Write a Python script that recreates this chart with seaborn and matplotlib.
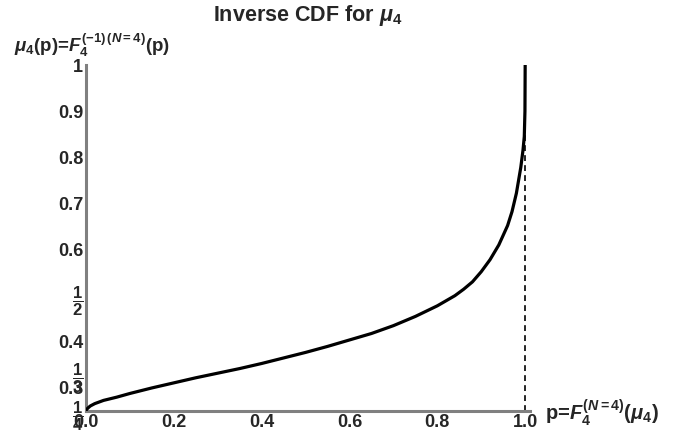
import numpy as np
import pandas as pd
import seaborn as sns
import matplotlib
matplotlib.use("Agg")
import matplotlib.pyplot as plt
from matplotlib.ticker import MultipleLocator

# values
p_vals = [0.0, 0.001, 0.005, 0.01, 0.02, 0.04, 0.07, 0.10, 0.15, 0.20, 0.25,
          0.30, 0.35, 0.40, 0.45, 0.50, 0.55, 0.60, 0.65, 0.70, 0.75, 0.80,
          0.84, 0.86, 0.88, 0.90, 0.92, 0.94, 0.96, 0.97, 0.98, 0.99, 0.995,
          0.998, 0.9995, 1.0]
mu_vals = [0.250, 0.253, 0.257, 0.261, 0.266, 0.273, 0.280, 0.288, 0.300,
           0.311, 0.322, 0.332, 0.342, 0.353, 0.365, 0.377, 0.390, 0.404,
           0.418, 0.435, 0.455, 0.478, 0.500, 0.514, 0.530, 0.552, 0.578,
           0.610, 0.652, 0.682, 0.722, 0.778, 0.815, 0.845, 0.900, 1.0]

x_ticks = [0.0, 0.2, 0.4, 0.6, 0.8, 1.0]
x_ticklabels = ["0.0", "0.2", "0.4", "0.6", "0.8", "1.0"]
y_ticks = [1.0, 0.9, 0.8, 0.7, 0.6, 0.5, 0.4, 1/3, 0.3, 0.25]
y_ticklabels = ["1", "0.9", "0.8", "0.7", "0.6", r"$\dfrac{1}{2}$", "0.4",
                r"$\dfrac{1}{3}$", "0.3", r"$\dfrac{1}{4}$"]

df = pd.DataFrame({"p": p_vals, "mu": mu_vals})

sns.set_style("white")
plt.rcParams['font.family'] = ['Liberation Sans', 'DejaVu Sans']
plt.rcParams['font.weight'] = 'bold'
plt.rcParams['mathtext.fontset'] = 'custom'
plt.rcParams['mathtext.rm'] = 'Liberation Sans:bold'
plt.rcParams['mathtext.it'] = 'Liberation Sans:bold:italic'
plt.rcParams['mathtext.bf'] = 'Liberation Sans:bold'

fig = plt.figure(figsize=(6.84, 4.34), dpi=100)
ax = fig.add_axes([86/684, 1-411/434, 444/684, 346/434])

ax.axvline(1.0, color='black', lw=1.2, ls=(0, (3.5, 2.5)), zorder=1)
sns.lineplot(data=df, x="p", y="mu", ax=ax, color='black', lw=2.3,
             estimator=None, zorder=3)

ax.set_xlim(0, 1.011)
ax.set_ylim(0.25, 1.0)
ax.set_xticks(x_ticks)
ax.set_xticklabels(x_ticklabels)
ax.set_yticks(y_ticks)
ax.set_yticklabels(y_ticklabels)
ax.xaxis.set_minor_locator(MultipleLocator(0.05))

for s in ['top', 'right']:
    ax.spines[s].set_visible(False)
for s in ['left', 'bottom']:
    ax.spines[s].set_color('#808080')
    ax.spines[s].set_linewidth(2.2)

ax.tick_params(axis='both', which='major', direction='in', length=3.5,
               width=1.2, color='black', labelsize=13, pad=2)
ax.tick_params(axis='x', which='minor', direction='in', length=2,
               width=1.0, color='black')
for lab in ax.get_xticklabels() + ax.get_yticklabels():
    lab.set_fontweight('bold')
for lab in ax.get_yticklabels():
    if "frac" in lab.get_text():
        lab.set_fontsize(12)

ax.set_xlabel("")
ax.set_ylabel("")

fig.text(308/684, 1-15/434, r"Inverse CDF for $\mu_4$", fontsize=15.5,
         fontweight='bold', ha='center', va='center')
fig.text(14/684, 1-45/434, r"$\mu_4$(p)=$F_4^{(-1)\,(N=4)}$(p)",
         fontsize=13.5, fontweight='bold', ha='left', va='center')
fig.text(545/684, 1-413/434, r"p=$F_4^{(N=4)}$($\mu_4$)",
         fontsize=14.5, fontweight='bold', ha='left', va='center')

fig.savefig("out.png", dpi=100)
